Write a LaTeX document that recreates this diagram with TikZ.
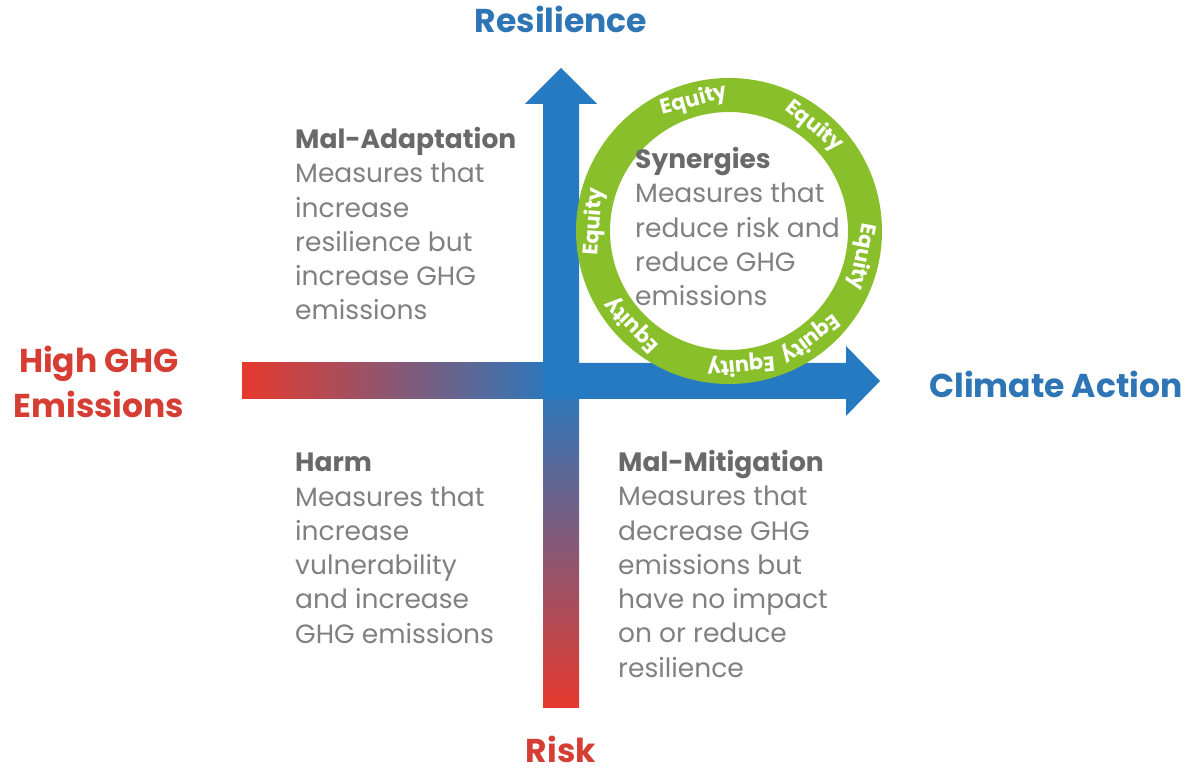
\documentclass[tikz,border=0pt]{standalone}
\usepackage{fontspec}
\setmainfont{Poppins}
\usetikzlibrary{calc}
\definecolor{axisblue}{RGB}{38,122,193}
\definecolor{riskred}{RGB}{230,57,45}
\definecolor{ringgreen}{RGB}{137,191,42}
\definecolor{labelblue}{RGB}{46,117,182}
\definecolor{labelred}{RGB}{214,62,52}
\definecolor{bodygray}{RGB}{128,128,128}
\definecolor{headgray}{RGB}{105,105,105}
\tikzset{
  block/.style={anchor=north west, align=left, inner sep=0pt, text=bodygray, font=\fontsize{26.5}{34.3}\selectfont},
  axislabel/.style={inner sep=0pt, font=\fontsize{33}{45}\selectfont\bfseries},
  equity/.style={inner sep=0pt, text=white, font=\fontsize{21}{21}\selectfont\bfseries}
}
\newcommand{\qhead}[1]{{\bfseries\color{headgray}#1}}

\begin{document}
\begin{tikzpicture}[x=1pt,y=1pt]
  \useasboundingbox (0,0) rectangle (1198,775);
  \coordinate (C) at (729,544);
  \shade[left color=riskred, right color=axisblue] (242,376) rectangle (561,412);
  \shade[bottom color=riskred, top color=axisblue] (543,67) rectangle (579,394);
  \fill[axisblue] (543,376) -- (543,671) -- (525,671) -- (561,707) -- (597,671) -- (579,671) -- (579,376) -- cycle;
  \fill[axisblue] (543,376) -- (846,376) -- (846,359) -- (880,394) -- (846,429) -- (846,412) -- (543,412) -- cycle;
  \draw[ringgreen, line width=34pt] (C) circle[radius=136];
  \foreach \a [count=\i] in {105,51,-11,-53,-85,-136,176}
    \node[equity, rotate=\a-90] (eq-\i) at ($(C)+(\a:135)$) {Equity};

  \node[axislabel, text=labelblue] (resil) at (561,756) {Resilience};
  \node[axislabel, text=labelblue, anchor=west] (climate) at (929,391) {Climate Action};
  \node[axislabel, text=labelred, align=center] (ghg) at (99,393) {High GHG\\Emissions};
  \node[axislabel, text=labelred, anchor=base] (risk) at (561,12) {Risk};

  \node[block] (maladapt) at (295,648) {\qhead{Mal-Adaptation}\\Measures that\\increase\\resilience but\\increase GHG\\emissions};
  \node[block] (synergy) at (635,628) {\qhead{Synergies}\\Measures that\\reduce risk and\\reduce GHG\\emissions};
  \node[block] (harm) at (295,322) {\qhead{Harm}\\Measures that\\increase\\vulnerability\\and increase\\GHG emissions};
  \node[block] (malmit) at (618,325) {\qhead{Mal-Mitigation}\\Measures that\\decrease GHG\\emissions but\\have no impact\\on or reduce\\resilience};
\end{tikzpicture}
\end{document}
